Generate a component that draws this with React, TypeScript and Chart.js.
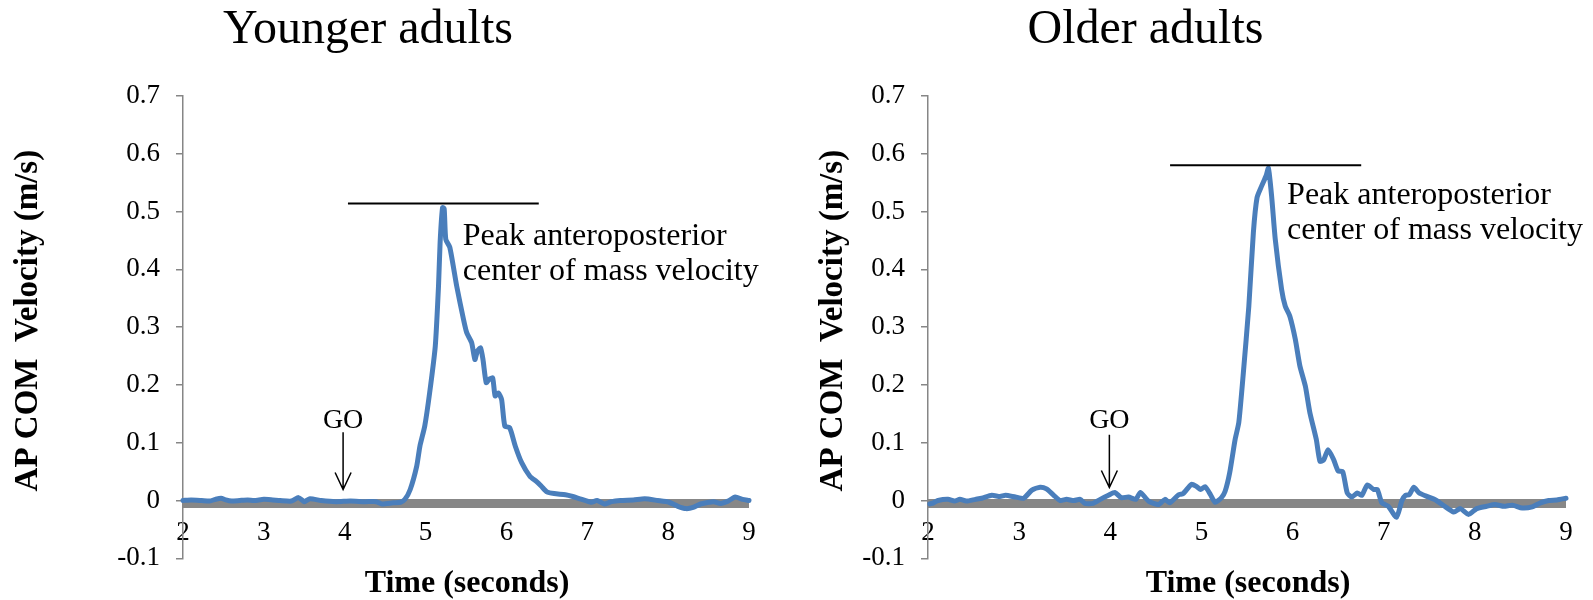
import React, { useEffect, useRef } from "react";
import { Chart, registerables } from "chart.js";

Chart.register(...registerables);

// ---------- data ----------
const xTickValues = [2, 3, 4, 5, 6, 7, 8, 9];
const yTickValues = [-0.1, 0, 0.1, 0.2, 0.3, 0.4, 0.5, 0.6, 0.7];

const youngerTime = [
  2.0, 2.1, 2.23, 2.33, 2.4, 2.47, 2.53, 2.6, 2.7, 2.8, 2.88, 3.0, 3.11, 3.2, 3.34, 3.43, 3.5, 3.57, 3.71, 3.89,
  4.07, 4.25, 4.39, 4.46, 4.6, 4.69, 4.745, 4.81, 4.89, 4.93, 4.99, 5.05, 5.12, 5.16, 5.18, 5.21, 5.23, 5.25,
  5.3, 5.385, 5.47, 5.51, 5.57, 5.61, 5.64, 5.68, 5.71, 5.75, 5.79, 5.83, 5.86, 5.9, 5.94, 5.98, 6.04, 6.11,
  6.19, 6.29, 6.37, 6.43, 6.5, 6.59, 6.73, 6.82, 6.91, 7.05, 7.12, 7.21, 7.3, 7.41, 7.57, 7.71, 7.87, 8.01,
  8.12, 8.22, 8.31, 8.4, 8.56, 8.65, 8.74, 8.83, 8.92, 9.0,
];
const youngerVel = [
  0.0, 0.001, 0.0, -0.001, 0.002, 0.004, 0.001, -0.001, 0.0, 0.001, 0.0, 0.002, 0.001, 0.0, -0.001, 0.005, -0.002,
  0.003, 0.0, -0.002, -0.001, -0.002, -0.002, -0.006, -0.004, -0.003, 0.002, 0.019, 0.059, 0.094, 0.129, 0.186,
  0.267, 0.371, 0.447, 0.507, 0.505, 0.452, 0.438, 0.371, 0.313, 0.29, 0.273, 0.244, 0.258, 0.264, 0.244, 0.204,
  0.21, 0.212, 0.181, 0.186, 0.175, 0.129, 0.126, 0.094, 0.065, 0.042, 0.033, 0.025, 0.015, 0.012, 0.01, 0.007,
  0.003, -0.003, 0.0, -0.006, -0.002, 0.0, 0.001, 0.003, 0.0, -0.003, -0.01, -0.014, -0.012, -0.006, -0.002,
  -0.005, -0.001, 0.006, 0.002, 0.0,
];

const olderTime = [
  2.02, 2.06, 2.11, 2.22, 2.29, 2.35, 2.42, 2.52, 2.59, 2.7, 2.79, 2.85, 2.96, 3.05, 3.14, 3.23, 3.3, 3.38, 3.45,
  3.52, 3.6, 3.67, 3.72, 3.81, 3.89, 3.98, 4.05, 4.12, 4.2, 4.28, 4.33, 4.42, 4.53, 4.6, 4.65, 4.75, 4.8, 4.89,
  4.94, 4.99, 5.04, 5.1, 5.15, 5.22, 5.26, 5.31, 5.37, 5.41, 5.46, 5.52, 5.57, 5.61, 5.66, 5.71, 5.735, 5.77,
  5.81, 5.88, 5.92, 5.97, 6.03, 6.08, 6.14, 6.19, 6.26, 6.3, 6.34, 6.39, 6.45, 6.5, 6.55, 6.6, 6.65, 6.71, 6.76,
  6.82, 6.89, 6.93, 6.98, 7.05, 7.14, 7.2, 7.24, 7.28, 7.33, 7.39, 7.46, 7.57, 7.66, 7.77, 7.84, 7.93, 8.02,
  8.13, 8.22, 8.32, 8.41, 8.52, 8.63, 8.72, 8.81, 8.9, 9.0,
];
const olderVel = [
  -0.006, -0.004, 0.0, 0.002, -0.001, 0.002, -0.001, 0.002, 0.004, 0.009, 0.007, 0.009, 0.006, 0.004, 0.018,
  0.023, 0.02, 0.009, 0.0, 0.002, 0.0, 0.002, -0.005, -0.005, 0.002, 0.009, 0.014, 0.005, 0.006, 0.002, 0.014,
  -0.001, -0.007, 0.002, -0.004, 0.01, 0.012, 0.028, 0.025, 0.019, 0.024, 0.01, -0.003, 0.005, 0.016, 0.048,
  0.106, 0.135, 0.221, 0.336, 0.464, 0.524, 0.544, 0.562, 0.575, 0.527, 0.452, 0.365, 0.336, 0.319, 0.279,
  0.233, 0.198, 0.152, 0.106, 0.068, 0.07, 0.088, 0.071, 0.051, 0.05, 0.013, 0.006, 0.013, 0.009, 0.027, 0.019,
  0.019, -0.004, -0.01, -0.029, 0.0, 0.009, 0.01, 0.023, 0.013, 0.008, 0.001, -0.009, -0.02, -0.014, -0.024,
  -0.014, -0.01, -0.007, -0.01, -0.008, -0.013, -0.011, -0.004, 0.0, 0.001, 0.004,
];

// grey reference line (zero level)
const zeroTime = [2, 9];
const zeroVel = [-0.005, -0.005];

// ---------- text ----------
const panelTitles = ["Younger adults", "Older adults"];
const yAxisTitle = "AP COM  Velocity (m/s)";
const xAxisTitle = "Time (seconds)";
const peakLabelLines = ["Peak anteroposterior", "center of mass velocity"];
const goLabel = "GO";

// ---------- panel layout / annotation settings ----------
type PanelCfg = {
  title: string;
  time: number[];
  vel: number[];
  left: number;
  width: number;
  yScaleWidth: number;
  padRight: number;
  titleX: number;
  yTitleX: number;
  xTitleX: number;
  peakValue: number;
  peakFrom: number;
  peakTo: number;
  peakTextT: number;
  peakTextV: number[];
  goT: number;
  goTextV: number;
  arrowTopV: number;
  arrowTipV: number;
};

const panels: PanelCfg[] = [
  {
    title: panelTitles[0],
    time: youngerTime,
    vel: youngerVel,
    left: 0,
    width: 790,
    yScaleWidth: 183,
    padRight: 41,
    titleX: 368,
    yTitleX: 37,
    xTitleX: 467,
    peakValue: 0.514,
    peakFrom: 4.04,
    peakTo: 6.4,
    peakTextT: 5.46,
    peakTextV: [0.443, 0.381],
    goT: 3.98,
    goTextV: 0.126,
    arrowTopV: 0.118,
    arrowTipV: 0.019,
  },
  {
    title: panelTitles[1],
    time: olderTime,
    vel: olderVel,
    left: 790,
    width: 803,
    yScaleWidth: 138,
    padRight: 27,
    titleX: 355.5,
    yTitleX: 52,
    xTitleX: 458,
    peakValue: 0.58,
    peakFrom: 4.656,
    peakTo: 6.753,
    peakTextT: 5.94,
    peakTextV: [0.5125, 0.452],
    goT: 3.99,
    goTextV: 0.126,
    arrowTopV: 0.114,
    arrowTipV: 0.0225,
  },
];

const SERIF = '"Liberation Serif", "Times New Roman", serif';
const BLUE = "#4a7ebb";
const GREY = "#878787";
const AXIS_GREY = "#868686";

function makeAnnotPlugin(cfg: PanelCfg) {
  return {
    id: "panelAnnotations",
    afterDraw(chart: any) {
      const { ctx, scales } = chart;
      const x = scales.x;
      const y = scales.y;
      ctx.save();
      ctx.fillStyle = "#000";
      ctx.strokeStyle = "#000";
      ctx.textBaseline = "alphabetic";

      // panel title
      ctx.font = `48px ${SERIF}`;
      ctx.textAlign = "center";
      ctx.fillText(cfg.title, cfg.titleX, 43);

      // y axis title
      ctx.save();
      ctx.translate(cfg.yTitleX, (y.top + y.bottom) / 2 - 6.5);
      ctx.rotate(-Math.PI / 2);
      ctx.font = `bold 33px ${SERIF}`;
      ctx.textAlign = "center";
      ctx.fillText(yAxisTitle, 0, 0);
      ctx.restore();

      // x axis title
      ctx.font = `bold 32px ${SERIF}`;
      ctx.textAlign = "center";
      ctx.fillText(xAxisTitle, cfg.xTitleX, 592);

      // peak line
      const py = y.getPixelForValue(cfg.peakValue);
      ctx.lineWidth = 2;
      ctx.beginPath();
      ctx.moveTo(x.getPixelForValue(cfg.peakFrom), py);
      ctx.lineTo(x.getPixelForValue(cfg.peakTo), py);
      ctx.stroke();

      // peak text
      ctx.font = `32px ${SERIF}`;
      ctx.textAlign = "left";
      const tx = x.getPixelForValue(cfg.peakTextT);
      peakLabelLines.forEach((line, i) => {
        ctx.fillText(line, tx, y.getPixelForValue(cfg.peakTextV[i]));
      });

      // GO label + arrow
      const ax = x.getPixelForValue(cfg.goT);
      ctx.font = `28px ${SERIF}`;
      ctx.textAlign = "center";
      ctx.fillText(goLabel, ax, y.getPixelForValue(cfg.goTextV));
      const top = y.getPixelForValue(cfg.arrowTopV);
      const tip = y.getPixelForValue(cfg.arrowTipV);
      ctx.lineWidth = 1.5;
      ctx.beginPath();
      ctx.moveTo(ax, top);
      ctx.lineTo(ax, tip);
      ctx.moveTo(ax - 8, tip - 17);
      ctx.lineTo(ax, tip);
      ctx.lineTo(ax + 8, tip - 17);
      ctx.stroke();
      ctx.restore();
    },
  };
}

function Panel({ cfg }: { cfg: PanelCfg }) {
  const ref = useRef<HTMLCanvasElement>(null);
  useEffect(() => {
    const canvas = ref.current!;
    const chart = new Chart(canvas, {
      type: "line",
      data: {
        datasets: [
          {
            data: cfg.time.map((t, i) => ({ x: t, y: cfg.vel[i] })),
            borderColor: BLUE,
            borderWidth: 5,
            pointRadius: 0,
            tension: 0.2,
            borderCapStyle: "round",
            borderJoinStyle: "round",
            fill: false,
            clip: false as any,
          },
          {
            data: zeroTime.map((t, i) => ({ x: t, y: zeroVel[i] })),
            borderColor: GREY,
            borderWidth: 9,
            pointRadius: 0,
            fill: false,
            clip: false as any,
          },
        ],
      },
      options: {
        animation: false,
        responsive: false,
        maintainAspectRatio: false,
        devicePixelRatio: 1,
        layout: { padding: { left: 0, top: 96, right: cfg.padRight, bottom: 41.7 } },
        plugins: {
          legend: { display: false },
          title: { display: false },
          tooltip: { enabled: false },
        },
        scales: {
          x: {
            type: "linear",
            position: { y: 0 } as any,
            min: 2,
            max: 9,
            afterBuildTicks: (s: any) => {
              s.ticks = xTickValues.map((v) => ({ value: v }));
            },
            ticks: {
              color: "#000",
              font: { family: SERIF, size: 27 },
              padding: 8,
              maxRotation: 0,
              autoSkip: false,
            },
            grid: { display: false },
            border: { display: false },
          },
          y: {
            type: "linear",
            min: -0.1,
            max: 0.7,
            afterBuildTicks: (s: any) => {
              s.ticks = yTickValues.map((v) => ({ value: v }));
            },
            afterFit: (s: any) => {
              s.width = cfg.yScaleWidth;
            },
            ticks: {
              color: "#000",
              font: { family: SERIF, size: 27 },
              padding: 16,
              autoSkip: false,
              callback: (v: any) => (Math.abs(Number(v)) < 1e-9 ? "0" : Number(v).toFixed(1)),
            },
            grid: {
              display: true,
              drawOnChartArea: false,
              drawTicks: true,
              tickLength: 7,
              color: AXIS_GREY,
              lineWidth: 1.5,
            },
            border: { display: true, color: AXIS_GREY, width: 1.5 },
          },
        },
      },
      plugins: [makeAnnotPlugin(cfg)],
    } as any);
    return () => chart.destroy();
  }, [cfg]);
  return (
    <canvas
      ref={ref}
      width={cfg.width}
      height={600}
      style={{ position: "absolute", left: cfg.left, top: 0, width: cfg.width, height: 600, display: "block" }}
    />
  );
}

export default function App() {
  return (
    <div style={{ position: "absolute", left: 0, top: 0, width: 1593, height: 600, background: "#fff", overflow: "hidden" }}>
      {panels.map((p, i) => (
        <Panel key={i} cfg={p} />
      ))}
    </div>
  );
}
